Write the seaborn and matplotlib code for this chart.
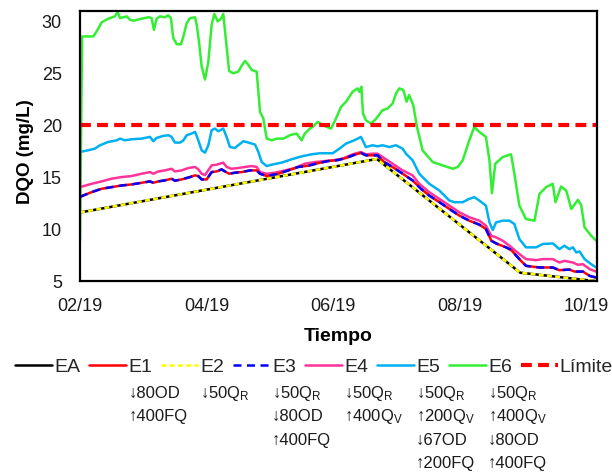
import matplotlib
matplotlib.use("Agg")
import matplotlib.pyplot as plt
import numpy as np
import pandas as pd
import seaborn as sns

# ---------------------------------------------------------------- data
inicio = pd.Timestamp("2019-02-01")

# days elapsed since the start date, and DQO (mg/L)
ea_dia = [0, 143, 212, 248]
ea_dqo = [11.6, 16.75, 5.8, 5.0]

e2_dia = [0, 143, 212, 248]
e2_dqo = [11.6, 16.75, 5.8, 5.0]

e1_dia = [0, 5.6, 10.4, 15.2, 20.1, 24.9, 29.7, 33.7, 35.3, 37.7, 40.9, 44.1,
          45.7, 48.9, 53.0, 55.4, 57.0, 58.6, 61.0, 63.4, 65.8, 68.2, 69.8,
          71.8, 74.6, 77.9, 81.9, 85.1, 86.7, 89.9, 95.5, 100.3, 105.1, 109.9,
          114.7, 119.5, 124.3, 128.1, 132.9, 135.3, 137.7, 140.9, 143.3, 146.5,
          150.6, 155.4, 160.2, 164.2, 168.2, 173.1, 177.9, 182.7, 187.5, 192.3,
          195.5, 198.1, 200.4, 205.2, 207.6, 211.6, 214.8, 221.3, 227.7, 230.9,
          235.7, 238.2, 242.2, 245.5, 248.6]
e1_dqo = [13.1, 13.56, 13.88, 14.04, 14.2, 14.3, 14.46, 14.59, 14.46, 14.59,
          14.69, 14.85, 14.66, 14.78, 15.01, 15.17, 15.1, 14.78, 14.78, 15.49,
          15.55, 15.75, 15.55, 15.33, 15.43, 15.49, 15.65, 15.65, 15.33, 15.11,
          15.33, 15.65, 15.98, 16.1, 16.35, 16.55, 16.65, 16.85, 17.2, 17.33,
          17.1, 17.1, 17.1, 16.45, 15.97, 15.33, 14.68, 13.88, 13.23, 12.59,
          11.94, 11.3, 10.81, 10.43, 10.01, 8.88, 8.62, 8.24, 8.0, 7.11, 6.46,
          6.3, 6.3, 6.04, 6.1, 5.91, 5.91, 5.49, 5.33]

e3_dia = list(e1_dia)
e3_dqo = [13.1, 13.56, 13.88, 14.04, 14.2, 14.3, 14.46, 14.59, 14.46, 14.59,
          14.69, 14.85, 14.66, 14.78, 15.01, 15.17, 15.1, 14.78, 14.78, 15.49,
          15.55, 15.75, 15.55, 15.33, 15.43, 15.49, 15.65, 15.65, 15.33, 15.11,
          15.33, 15.65, 15.98, 16.1, 16.35, 16.55, 16.65, 16.85, 17.2, 17.33,
          17.1, 17.1, 17.1, 16.45, 15.97, 15.33, 14.68, 13.88, 13.23, 12.59,
          11.94, 11.3, 10.81, 10.43, 10.01, 8.88, 8.62, 8.24, 8.0, 7.11, 6.46,
          6.3, 6.3, 6.04, 6.1, 5.91, 5.91, 5.49, 5.33]

e4_dia = [0, 5.6, 10.4, 15.2, 20.1, 24.9, 29.7, 33.7, 35.3, 37.7, 40.9, 44.1,
          45.7, 48.9, 52.2, 55.4, 57.0, 58.6, 60.2, 63.4, 65.8, 69.0, 70.6,
          73.0, 76.2, 79.5, 82.7, 85.1, 86.7, 89.9, 93.9, 98.8, 103.6, 108.4,
          113.1, 118.0, 121.7, 126.5, 131.3, 135.3, 137.7, 140.9, 143.3, 145.7,
          150.6, 155.4, 160.2, 163.4, 168.2, 173.1, 177.9, 182.7, 187.5, 192.3,
          195.5, 198.1, 200.4, 203.6, 206.8, 211.6, 214.8, 219.7, 222.9, 227.7,
          230.9, 233.3, 237.4, 239.8, 242.2, 245.5, 248.6]
e4_dqo = [14.04, 14.36, 14.59, 14.85, 15.01, 15.11, 15.33, 15.49, 15.33, 15.55,
          15.65, 15.81, 15.55, 15.65, 15.88, 15.98, 15.75, 15.33, 15.2, 16.14,
          16.2, 16.4, 15.98, 15.81, 15.88, 15.98, 16.07, 15.98, 15.49, 15.33,
          15.43, 15.65, 15.88, 16.3, 16.45, 16.55, 16.62, 16.78, 17.2, 17.42,
          17.2, 17.26, 17.26, 16.94, 16.29, 15.65, 15.17, 14.36, 13.55, 12.91,
          12.26, 11.62, 11.14, 10.81, 10.33, 9.36, 9.2, 8.88, 8.4, 7.59, 7.11,
          7.01, 7.11, 7.11, 6.78, 6.94, 6.78, 6.56, 6.62, 6.14, 5.91]

e5_dia = [0, 4.0, 7.2, 9.6, 13.6, 17.7, 19.3, 21.7, 24.9, 29.7, 33.7, 35.3,
          36.9, 40.1, 42.5, 44.1, 45.7, 48.2, 49.8, 51.4, 53.8, 55.4, 56.7,
          58.6, 60.2, 61.8, 63.4, 65.0, 66.6, 69.0, 70.6, 72.2, 74.6, 76.2,
          78.7, 81.1, 84.3, 85.9, 87.5, 89.9, 92.3, 97.1, 101.9, 106.7, 111.5,
          115.5, 119.0, 121.7, 124.9, 128.1, 132.1, 135.3, 137.7, 140.9, 143.3,
          145.7, 148.9, 152.2, 155.4, 157.0, 160.2, 163.4, 168.2, 173.1, 177.9,
          180.3, 184.3, 187.5, 189.9, 192.3, 195.5, 197.2, 198.8, 200.4, 203.6,
          206.8, 209.2, 211.6, 214.8, 219.7, 222.9, 227.7, 230.9, 233.3, 235.7,
          237.4, 239.0, 240.6, 243.0, 246.2, 248.6]
e5_dqo = [17.43, 17.59, 17.75, 18.07, 18.39, 18.55, 18.71, 18.55, 18.65, 18.71,
          18.88, 18.46, 18.78, 18.97, 19.04, 18.88, 18.33, 18.33, 18.55, 19.04,
          19.2, 19.36, 18.71, 17.59, 17.36, 18.07, 19.52, 19.68, 19.42, 19.68,
          18.88, 17.91, 17.81, 18.07, 18.46, 18.33, 18.14, 17.43, 16.46, 16.07,
          16.2, 16.4, 16.72, 17.0, 17.2, 17.3, 17.3, 17.3, 17.74, 18.23, 18.55,
          18.87, 17.9, 18.07, 17.97, 18.07, 17.9, 18.07, 17.74, 17.26, 16.62,
          15.33, 14.36, 13.71, 12.75, 12.59, 12.59, 12.91, 13.07, 12.75, 12.26,
          10.65, 9.91, 10.65, 10.81, 10.81, 10.49, 9.04, 8.24, 8.24, 8.56, 8.62,
          8.07, 8.4, 8.07, 8.24, 7.75, 7.85, 7.11, 6.62, 6.3]

e6_dia = [0, 1.0, 6.4, 8.0, 10.4, 13.6, 16.8, 18.1, 19.3, 22.5, 24.1, 25.7,
          29.7, 33.2, 34.5, 35.6, 36.9, 38.5, 40.9, 42.5, 43.8, 44.9, 46.6,
          48.6, 49.8, 51.4, 53.0, 55.4, 56.2, 57.3, 58.6, 60.2, 61.8, 63.4,
          64.7, 66.3, 67.9, 69.0, 70.2, 71.8, 73.8, 76.2, 77.9, 79.5, 81.1,
          82.7, 85.1, 86.7, 88.3, 89.9, 92.3, 94.7, 97.9, 101.1, 104.3, 106.7,
          108.3, 110.7, 112.0, 114.5, 116.9, 120.9, 123.3, 125.7, 128.1, 131.3,
          133.7, 134.6, 135.5, 136.3, 137.7, 140.1, 142.5, 145.7, 148.1, 150.6,
          152.2, 153.8, 155.7, 157.3, 158.5, 160.5, 162.3, 165.0, 169.9, 174.7,
          179.5, 181.9, 184.3, 187.5, 189.9, 192.3, 195.5, 197.2, 198.4, 200.0,
          203.6, 207.6, 209.2, 211.6, 214.8, 218.9, 221.3, 224.5, 227.7, 229.0,
          231.7, 234.2, 236.6, 239.8, 241.4, 243.0, 246.2, 248.6]
e6_dqo = [8.88, 28.55, 28.55, 29.03, 29.9, 30.26, 30.48, 30.9, 30.32, 30.48,
          30.16, 30.06, 30.26, 30.4, 30.32, 29.19, 30.26, 30.48, 30.4, 30.58,
          30.32, 28.39, 27.8, 27.8, 28.55, 29.84, 30.32, 30.39, 29.68, 28.06,
          25.65, 24.4, 26.1, 29.68, 30.71, 30.0, 30.26, 30.71, 28.39, 25.23,
          25.0, 25.16, 25.74, 26.19, 25.81, 25.32, 25.16, 21.29, 20.65, 18.71,
          18.55, 18.71, 18.71, 19.04, 19.2, 18.55, 19.2, 19.68, 19.84, 20.32,
          20.0, 19.68, 20.65, 21.77, 22.26, 23.22, 23.55, 23.2, 23.7, 21.13,
          20.48, 20.16, 20.6, 21.45, 21.6, 22.1, 23.06, 23.55, 23.39, 22.26,
          22.91, 21.94, 19.84, 17.58, 16.45, 16.13, 15.81, 15.97, 16.62, 18.55,
          19.84, 19.36, 18.87, 16.62, 13.46, 16.29, 16.94, 17.2, 15.33, 12.26,
          10.97, 10.81, 13.39, 14.04, 14.36, 12.59, 14.1, 13.7, 11.94, 12.81,
          12.3, 10.17, 9.36, 8.88]

limite_dqo = 20

tick_dias = [0, 61, 122, 183, 244]
tick_etiquetas = ["02/19", "04/19", "06/19", "08/19", "10/19"]
dia_max = 249

notas = {
    "E1": ["↓80OD", "↑400FQ"],
    "E2": ["↓50Q$_{R}$"],
    "E3": ["↓50Q$_{R}$", "↓80OD", "↑400FQ"],
    "E4": ["↓50Q$_{R}$", "↑400Q$_{V}$"],
    "E5": ["↓50Q$_{R}$", "↑200Q$_{V}$", "↓67OD", "↑200FQ"],
    "E6": ["↓50Q$_{R}$", "↑400Q$_{V}$", "↓80OD", "↑400FQ"],
}

# ---------------------------------------------------------------- style
sns.set_theme(style="white")
plt.rcParams["font.family"] = ["Liberation Sans", "DejaVu Sans"]
plt.rcParams["mathtext.default"] = "regular"
plt.rcParams["mathtext.fontset"] = "custom"
plt.rcParams["mathtext.rm"] = "Liberation Sans"

def serie(dias, valores):
    return pd.DataFrame({
        "fecha": inicio + pd.to_timedelta(np.asarray(dias, dtype=float), unit="D"),
        "dqo": valores,
    })

fig = plt.figure(figsize=(6.12, 4.72), dpi=100)
W, H = 612, 472
ax = fig.add_axes([80 / W, 1 - 281 / H, 517 / W, 270 / H])

lw = 1.8
estilos = [
    # name, days, values, colour, linestyle, width
    ("E6", e6_dia, e6_dqo, "#33EE33", "-", lw),
    ("E5", e5_dia, e5_dqo, "#00B0F0", "-", lw),
    ("E4", e4_dia, e4_dqo, "#FF3399", "-", lw),
    ("E1", e1_dia, e1_dqo, "#FF0000", "-", lw),
    ("E3", e3_dia, e3_dqo, "#0000FF", (0, (3.2, 2.2)), lw),
    ("EA", ea_dia, ea_dqo, "#000000", "-", lw),
    ("E2", e2_dia, e2_dqo, "#FFFF00", (0, (2.0, 1.3)), lw),
]
handles = {}
for nombre, d, v, c, ls, w in estilos:
    sns.lineplot(data=serie(d, v), x="fecha", y="dqo", ax=ax, color=c,
                 linestyle=ls, linewidth=w, errorbar=None, label=nombre)
    handles[nombre] = ax.get_lines()[-1]

handles["Límite"] = ax.axhline(limite_dqo, color="#FF0000", linewidth=3.0,
                                linestyle=(0, (2.6, 1.5)), label="Límite")

# ---------------------------------------------------------------- axes
ax.set_xlim(inicio, inicio + pd.Timedelta(days=dia_max))
ax.set_ylim(5, 31)
ax.set_xticks([inicio + pd.Timedelta(days=t) for t in tick_dias], labels=tick_etiquetas)
ax.set_yticks([5, 10, 15, 20, 25, 30])
ax.tick_params(axis="both", direction="in", length=4, width=1, color="black",
               labelsize=13, labelcolor="#1a1a1a")
ax.tick_params(axis="x", pad=12)
ax.tick_params(axis="y", pad=13)
for sp in ax.spines.values():
    sp.set_visible(True)
    sp.set_color("black")
    sp.set_linewidth(1.6)

ax.set_xlabel("Tiempo", fontsize=14, fontweight="bold", color="black")
ax.set_ylabel("DQO (mg/L)", fontsize=13.5, fontweight="bold", color="black")
ax.xaxis.set_label_coords(0.5, -0.175)
ax.yaxis.set_label_coords((25 - 80) / 517, 0.48)
ax.yaxis.label.set_verticalalignment("center")
if ax.get_legend():
    ax.get_legend().remove()

orden = ["EA", "E1", "E2", "E3", "E4", "E5", "E6", "Límite"]
leg = fig.legend([handles[k] for k in orden], orden, loc="center left",
                 bbox_to_anchor=(15 / W, 1 - 367 / H), ncol=8, frameon=False,
                 fontsize=14, handlelength=1.9, handletextpad=0.12,
                 columnspacing=0.45, borderpad=0, borderaxespad=0)

fig.canvas.draw()
renderer = fig.canvas.get_renderer()
for txt in leg.get_texts():
    lineas = notas.get(txt.get_text())
    if not lineas:
        continue
    x0 = txt.get_window_extent(renderer).x0 / fig.bbox.width
    for i, linea in enumerate(lineas):
        fig.text(x0, 1 - (393.5 + 23.3 * i) / H, linea, fontsize=12,
                 ha="left", va="center", color="#1a1a1a")

fig.savefig("out.png", dpi=100)
